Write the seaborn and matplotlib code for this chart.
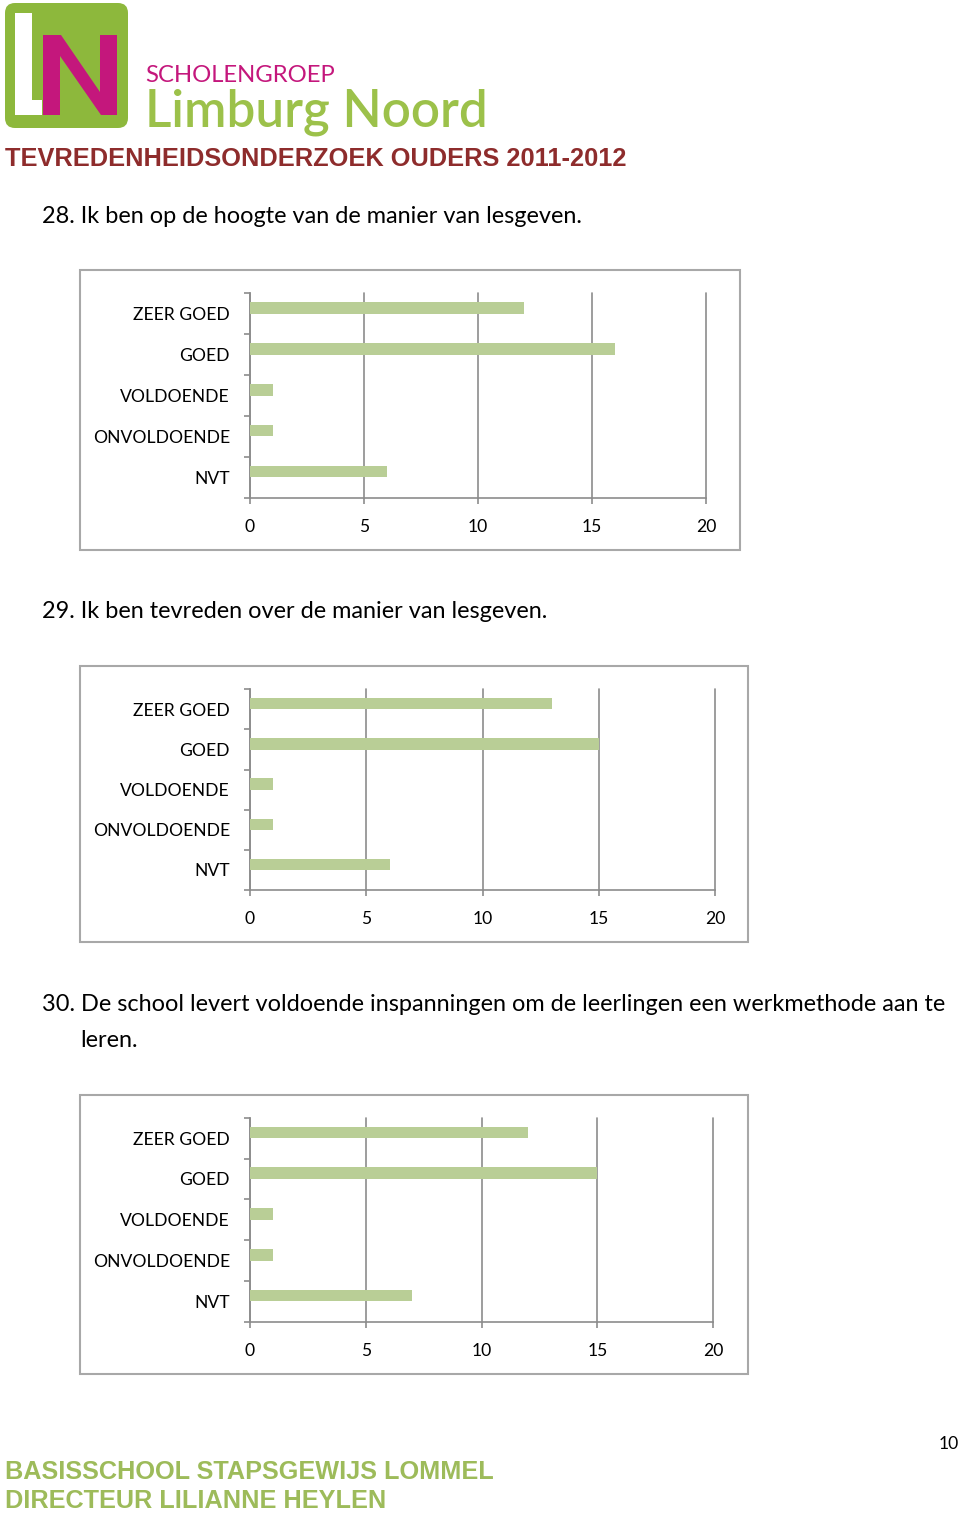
import numpy as np
import pandas as pd
import matplotlib
matplotlib.use("Agg")
import matplotlib.pyplot as plt
import seaborn as sns
from matplotlib.patches import Rectangle, FancyBboxPatch, Polygon
from matplotlib import font_manager

# ---------------- data ----------------
categories = ["ZEER GOED", "GOED", "VOLDOENDE", "ONVOLDOENDE", "NVT"]
q28_values = [12, 16, 1, 1, 6]
q29_values = [13, 15, 1, 1, 6]
q30_values = [12, 15, 1, 1, 7]
x_ticks = [0, 5, 10, 15, 20]
q28_title = "28. Ik ben op de hoogte van de manier van lesgeven."
q29_title = "29. Ik ben tevreden over de manier van lesgeven."
q30_title_1 = "30. De school levert voldoende inspanningen om de leerlingen een werkmethode aan te"
q30_title_2 = "leren."
header_title = "TEVREDENHEIDSONDERZOEK OUDERS 2011-2012"
footer_1 = "BASISSCHOOL STAPSGEWIJS LOMMEL"
footer_2 = "DIRECTEUR LILIANNE HEYLEN"
page_number = "10"

# ---------------- style ----------------
sns.set_theme(style="white")
BODY = "Lato"
available = {f.name for f in font_manager.fontManager.ttflist}
NARROW = "Liberation Sans Narrow" if "Liberation Sans Narrow" in available else "Liberation Sans"
plt.rcParams["font.family"] = [BODY, "DejaVu Sans"]

BAR_GREEN = "#B9CE96"
GRID = "#8C8C8C"
BOX = "#A8A8A8"
LOGO_GREEN = "#8DB83C"
LOGO_MAGENTA = "#C4177C"
TITLE_RED = "#8E2C2C"
FOOT_GREEN = "#9DBB5A"

W, H = 960, 1515
fig = plt.figure(figsize=(W / 100, H / 100), dpi=100)
renderer = fig.canvas.get_renderer()


def fit_size(text, width, **kw):
    t = fig.text(0, 0, text, fontsize=20, **kw)
    w = t.get_window_extent(renderer).width
    t.remove()
    return 20 * width / w


def px_axes(x0, y0, x1, y1):
    return fig.add_axes([x0 / W, 1 - y1 / H, (x1 - x0) / W, (y1 - y0) / H])


# background axes in pixel coordinates for decorations
bg = fig.add_axes([0, 0, 1, 1], zorder=-1)
bg.set_xlim(0, W)
bg.set_ylim(H, 0)
bg.axis("off")

# ---------------- header / logo ----------------
bg.add_patch(FancyBboxPatch((5, 3), 123, 125, boxstyle="round,pad=0,rounding_size=10",
                            fc=LOGO_GREEN, ec="none"))
bg.add_patch(Polygon([(15, 13), (32, 13), (32, 100), (42, 100), (42, 115), (15, 115)],
                     closed=True, fc="white", ec="none"))
bg.add_patch(Polygon([(43, 35), (61, 35), (100, 92), (100, 35), (117, 35), (117, 115),
                      (101, 115), (60, 56), (60, 115), (43, 115)],
                     closed=True, fc=LOGO_MAGENTA, ec="none"))
fs = fit_size("SCHOLENGROEP", 190, family=BODY)
bg.text(145, 82, "SCHOLENGROEP", fontsize=fs, family=BODY, color=LOGO_MAGENTA, va="baseline")
fs = fit_size("Limburg Noord", 343, family=BODY, weight="semibold")
bg.text(145, 127, "Limburg Noord", fontsize=fs, family=BODY, weight="semibold",
        color="#9CC14A", va="baseline")
fs = fit_size(header_title, 620, family=NARROW, weight="bold")
bg.text(5, 166, header_title, fontsize=fs, family=NARROW, weight="bold",
        color=TITLE_RED, va="baseline")

# ---------------- question titles ----------------
qfs = fit_size(q30_title_1, 905, family=BODY)
bg.text(42, 223, q28_title, fontsize=qfs, family=BODY, color="black", va="baseline")
bg.text(42, 618, q29_title, fontsize=qfs, family=BODY, color="black", va="baseline")
bg.text(42, 1011, q30_title_1, fontsize=qfs, family=BODY, color="black", va="baseline")
bg.text(80, 1047, q30_title_2, fontsize=qfs, family=BODY, color="black", va="baseline")

# ---------------- charts ----------------
lab_fs = fit_size("ONVOLDOENDE", 136, family=BODY)

charts = [
    (q28_values, (80, 270, 740, 550), (250, 293.3, 706, 497.7)),
    (q29_values, (80, 666, 748, 942), (250, 689.3, 715, 890.0)),
    (q30_values, (80, 1095, 748, 1374), (250, 1117.7, 713, 1321.7)),
]

for values, box, area in charts:
    bx0, by0, bx1, by1 = box
    bg.add_patch(Rectangle((bx0, by0), bx1 - bx0, by1 - by0, fc="white", ec=BOX, lw=1.5))
    ax = px_axes(*area)
    df = pd.DataFrame({"categorie": categories, "aantal": values, "reeks": "Reeks1"})
    sns.barplot(data=df, x="aantal", y="categorie", hue="reeks",
                hue_order=["Reeks1", "Reeks2"],
                palette={"Reeks1": BAR_GREEN, "Reeks2": BAR_GREEN},
                order=categories, orient="h", width=0.56, dodge=True, saturation=1,
                errorbar=None, legend=False, ax=ax)
    for p in ax.patches:
        p.set_zorder(3)
        p.set_edgecolor("none")
    ax.set_facecolor("none")
    ax.set_xlim(x_ticks[0], x_ticks[-1])
    ax.set_ylim(len(categories) - 0.5, -0.5)
    ax.set_xticks(x_ticks)
    ax.set_xticklabels([str(v) for v in x_ticks])
    ax.set_yticks(range(len(categories)))
    ax.set_yticks(np.arange(-0.5, len(categories), 1.0), minor=True)
    ax.set_xlabel("")
    ax.set_ylabel("")
    ax.xaxis.grid(True, color=GRID, lw=1.2)
    ax.yaxis.grid(False)
    for gl in ax.get_xgridlines():
        gl.set_zorder(1)
        gl.set_clip_on(False)
    for s in ["top", "right"]:
        ax.spines[s].set_visible(False)
    for s in ["left", "bottom"]:
        ax.spines[s].set_visible(True)
        ax.spines[s].set_color(GRID)
        ax.spines[s].set_linewidth(1.2)
        ax.spines[s].set_zorder(2)
    ax.tick_params(axis="y", which="major", left=True, length=0, pad=14.5,
                   labelsize=lab_fs, labelcolor="black")
    ax.tick_params(axis="y", which="minor", left=True, length=4, width=1.2,
                   color=GRID, direction="out")
    ax.tick_params(axis="x", which="major", bottom=True, length=4, width=1.2,
                   color=GRID, direction="out", pad=11, labelsize=lab_fs,
                   labelcolor="black")
    for lab in ax.get_yticklabels() + ax.get_xticklabels():
        lab.set_family(BODY)

# ---------------- footer ----------------
ffs = fit_size(footer_1, 490, family=NARROW, weight="bold")
bg.text(5, 1479, footer_1, fontsize=ffs, family=NARROW, weight="bold",
        color=FOOT_GREEN, va="baseline")
bg.text(5, 1508, footer_2, fontsize=ffs, family=NARROW, weight="bold",
        color=FOOT_GREEN, va="baseline")
bg.text(959, 1449, page_number, fontsize=lab_fs, family=BODY, color="black",
        ha="right", va="baseline")

fig.savefig("out.png", dpi=100)
